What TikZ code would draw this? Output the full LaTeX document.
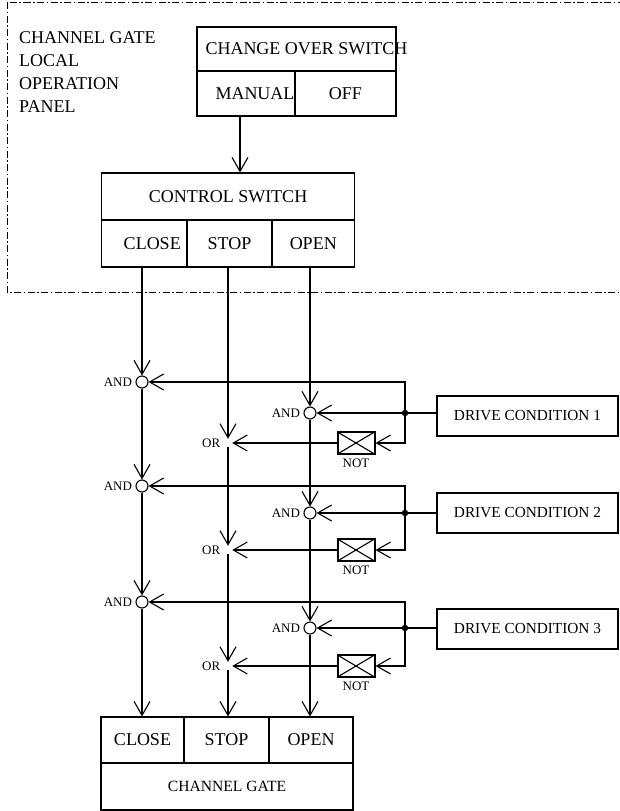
\documentclass[tikz,border=0pt]{standalone}
\usepackage{fontspec}
\setmainfont{Liberation Serif}
\usetikzlibrary{arrows.meta}
\begin{document}
\begin{tikzpicture}
        [x=1pt,y=-1pt,
        boxdecorate/.style={shape=rectangle,draw,line width=1.1pt,inner sep=0pt,font=\fontsize{18}{22}\selectfont},%
        drivedecorate/.style={boxdecorate,minimum width=181,minimum height=40,font=\fontsize{15.3}{18}\selectfont},%
        gatedecorate/.style={shape=circle,draw,fill=white,line width=1.1pt,minimum size=12,inner sep=0pt},%
        ordecorate/.style={shape=circle,minimum size=8,inner sep=0pt},%
        notdecorate/.style={shape=rectangle,draw,line width=2pt,minimum width=37,minimum height=22,inner sep=0pt,
          path picture={\draw[line width=1.1pt] (path picture bounding box.north west) -- (path picture bounding box.south east)
            (path picture bounding box.north east) -- (path picture bounding box.south west);}},%
        dotdecorate/.style={shape=circle,fill,minimum size=6.5,inner sep=0pt},%
        labeldecorate/.style={font=\fontsize{13}{15}\selectfont},%
        arrowdecorate/.style={->,>={Straight Barb[length=14pt,width=16pt]},line width=1.1pt},%
        paneldecorate/.style={line width=0.8pt,dash pattern=on 7pt off 2.5pt on 1.5pt off 2.5pt}]
        \useasboundingbox (0,0) rectangle (619,811);
        %% local operation panel
        \draw[paneldecorate] (7,2) rectangle (640,292);
        \node (paneltitle) at (19,31) [anchor=north west,inner sep=0pt,align=left,font=\fontsize{18}{23}\selectfont]
          {CHANNEL GATE\\LOCAL\\OPERATION\\PANEL};
        %% switch and gate cells
        \foreach \nodename/\x/\y/\w/\h/\text in {
          cos/296.5/49/199/44/{\makebox[182pt][l]{CHANGE OVER SWITCH}},
          manual/246/93.5/98/45/{\hspace{18pt}MANUAL}, off/345.5/93.5/101/45/OFF,
          cs/228/196.5/253/47/CONTROL SWITCH,
          csclose/144.25/243.5/85.5/47/{\hspace{16pt}CLOSE}, csstop/229.5/243.5/85/47/STOP,
          csopen/313.25/243.5/82.5/47/OPEN,
          gclose/142.5/740/83/46/CLOSE, gstop/226.5/740/85/46/STOP, gopen/311/740/84/46/OPEN}
        {
          \node (\nodename) at (\x,\y) [boxdecorate,minimum width=\w,minimum height=\h] {\text};
        }
        \node (gate) at (227,786.5) [boxdecorate,minimum width=252,minimum height=47,font=\fontsize{15.6}{18}\selectfont] {CHANNEL GATE};
        %% gates and drive conditions
        \foreach \row/\yc/\yo/\yn/\yd in {1/382/413/443/416, 2/486/513/550/513, 3/602/628/666/629}
        {
          \node (andc\row) at (142,\yc) [gatedecorate] {};
          \node [left,labeldecorate] at (andc\row.west) {AND};
          \node (ando\row) at (310,\yo) [gatedecorate] {};
          \node [left,labeldecorate] at (ando\row.west) {AND};
          \node (or\row) at (228,\yn) [ordecorate] {};
          \node [left,labeldecorate] at (or\row.west) {OR};
          \node (not\row) at (356,\yn) [notdecorate] {};
          \node [below,labeldecorate] at (not\row.south) {NOT};
          \node (dot\row) at (405,\yo) [dotdecorate] {};
          \node (drive\row) at (527.5,\yd) [drivedecorate] {DRIVE CONDITION \row};
        }
        %% line ends
        \coordinate (manualout) at ([xshift=-6pt]manual.south);
        \coordinate (csin) at (manualout |- cs.north);
        \coordinate (closein) at (csclose.south -| andc1);
        \coordinate (stopin) at (csstop.south -| or1);
        \coordinate (openin) at (csopen.south -| ando1);
        \coordinate (closeout) at (andc3 |- gclose.north);
        \coordinate (stopout) at (or3 |- gstop.north);
        \coordinate (openout) at (ando3 |- gopen.north);
        %% edges or lines
        \path
        \foreach \startnode/\endnode in {manualout/csin, closein/andc1, andc1/andc2, andc2/andc3, andc3/closeout,
          stopin/or1, or1/or2, or2/or3, or3/stopout, openin/ando1, ando1/ando2, ando2/ando3, ando3/openout}
        {
          (\startnode) edge[arrowdecorate] (\endnode)
        };
        \foreach \row in {1,2,3}
        {
          \draw[line width=1.1pt] (drive\row.west |- dot\row) -- (dot\row);
          \draw[arrowdecorate] (dot\row) -- (ando\row);
          \draw[arrowdecorate] (dot\row) |- (andc\row);
          \draw[arrowdecorate] (dot\row) |- (not\row);
          \draw[arrowdecorate] (not\row) -- (or\row);
        }
      \end{tikzpicture}
\end{document}
